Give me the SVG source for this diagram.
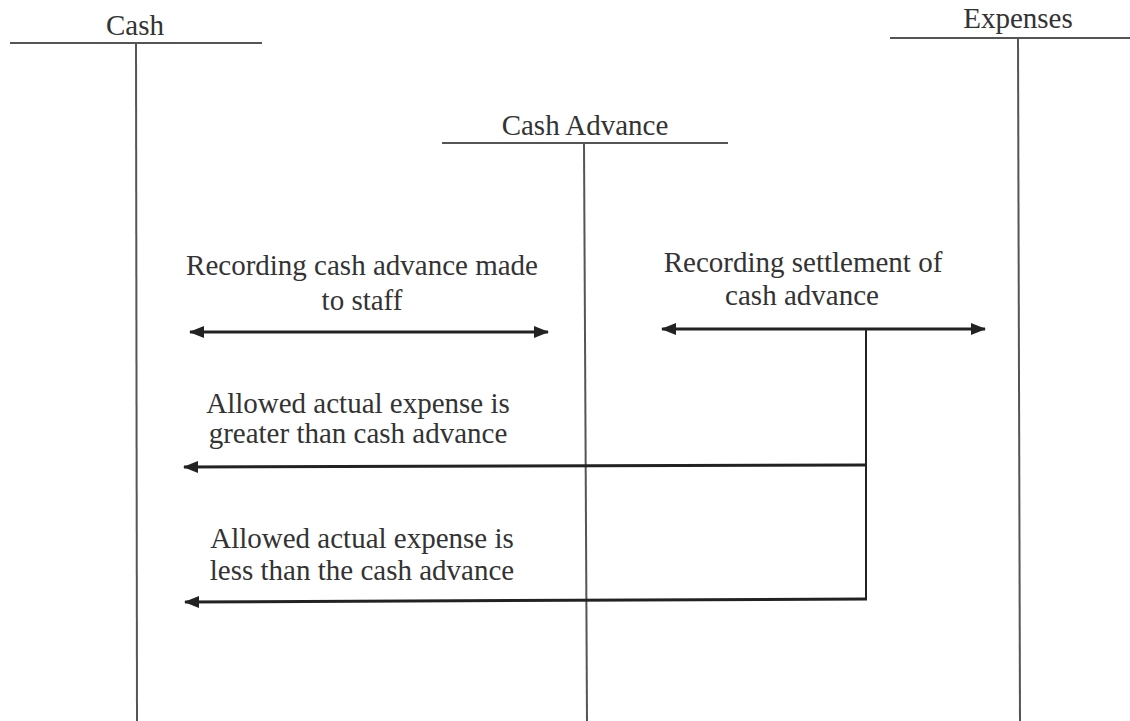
<svg xmlns="http://www.w3.org/2000/svg" width="1130" height="721" viewBox="0 0 1130 721">
<style>
text{font-family:'Liberation Serif','DejaVu Serif',serif;font-size:29px;fill:#333;text-anchor:middle}
.t{stroke:#555;stroke-width:2;fill:none}
.a{stroke:#222;stroke-width:3;fill:none}
.d{stroke:#222;stroke-width:2;fill:none}
</style>
<defs>
<marker id="ah" markerUnits="userSpaceOnUse" markerWidth="16" markerHeight="14" viewBox="0 0 16 14" refX="14" refY="7" orient="auto-start-reverse">
<path d="M0,1 L15,7 L0,13 Z" fill="#222"/>
</marker>
</defs>
<rect width="1130" height="721" fill="#fff"/>
<g id="cash">
<line class="t" x1="10" y1="43" x2="262" y2="43"/>
<line class="t" x1="136" y1="43" x2="137" y2="721"/>
<text x="135" y="35">Cash</text>
</g>
<g id="cash-advance">
<line class="t" x1="442" y1="143" x2="728" y2="143"/>
<line class="t" x1="584" y1="143" x2="587" y2="721"/>
<text x="585" y="135">Cash Advance</text>
</g>
<g id="expenses">
<line class="t" x1="890" y1="38" x2="1130" y2="38"/>
<line class="t" x1="1018" y1="38" x2="1020" y2="721"/>
<text x="1018" y="28">Expenses</text>
</g>
<g id="connectors">
<line class="a" x1="190" y1="332" x2="548" y2="332" marker-start="url(#ah)" marker-end="url(#ah)"/>
<line class="a" x1="662" y1="329" x2="985" y2="329" marker-start="url(#ah)" marker-end="url(#ah)"/>
<line class="d" x1="866" y1="329" x2="866" y2="599"/>
<line class="a" x1="866" y1="465" x2="184" y2="467" marker-end="url(#ah)"/>
<line class="a" x1="867" y1="599" x2="185" y2="602" marker-end="url(#ah)"/>
</g>
<g id="labels">
<text x="362" y="275">Recording cash advance made</text>
<text x="362" y="310">to staff</text>
<text x="803" y="272">Recording settlement of</text>
<text x="802" y="305">cash advance</text>
<text x="358" y="413">Allowed actual expense is</text>
<text x="358" y="443">greater than cash advance</text>
<text x="362" y="548">Allowed actual expense is</text>
<text x="362" y="580">less than the cash advance</text>
</g>
</svg>
